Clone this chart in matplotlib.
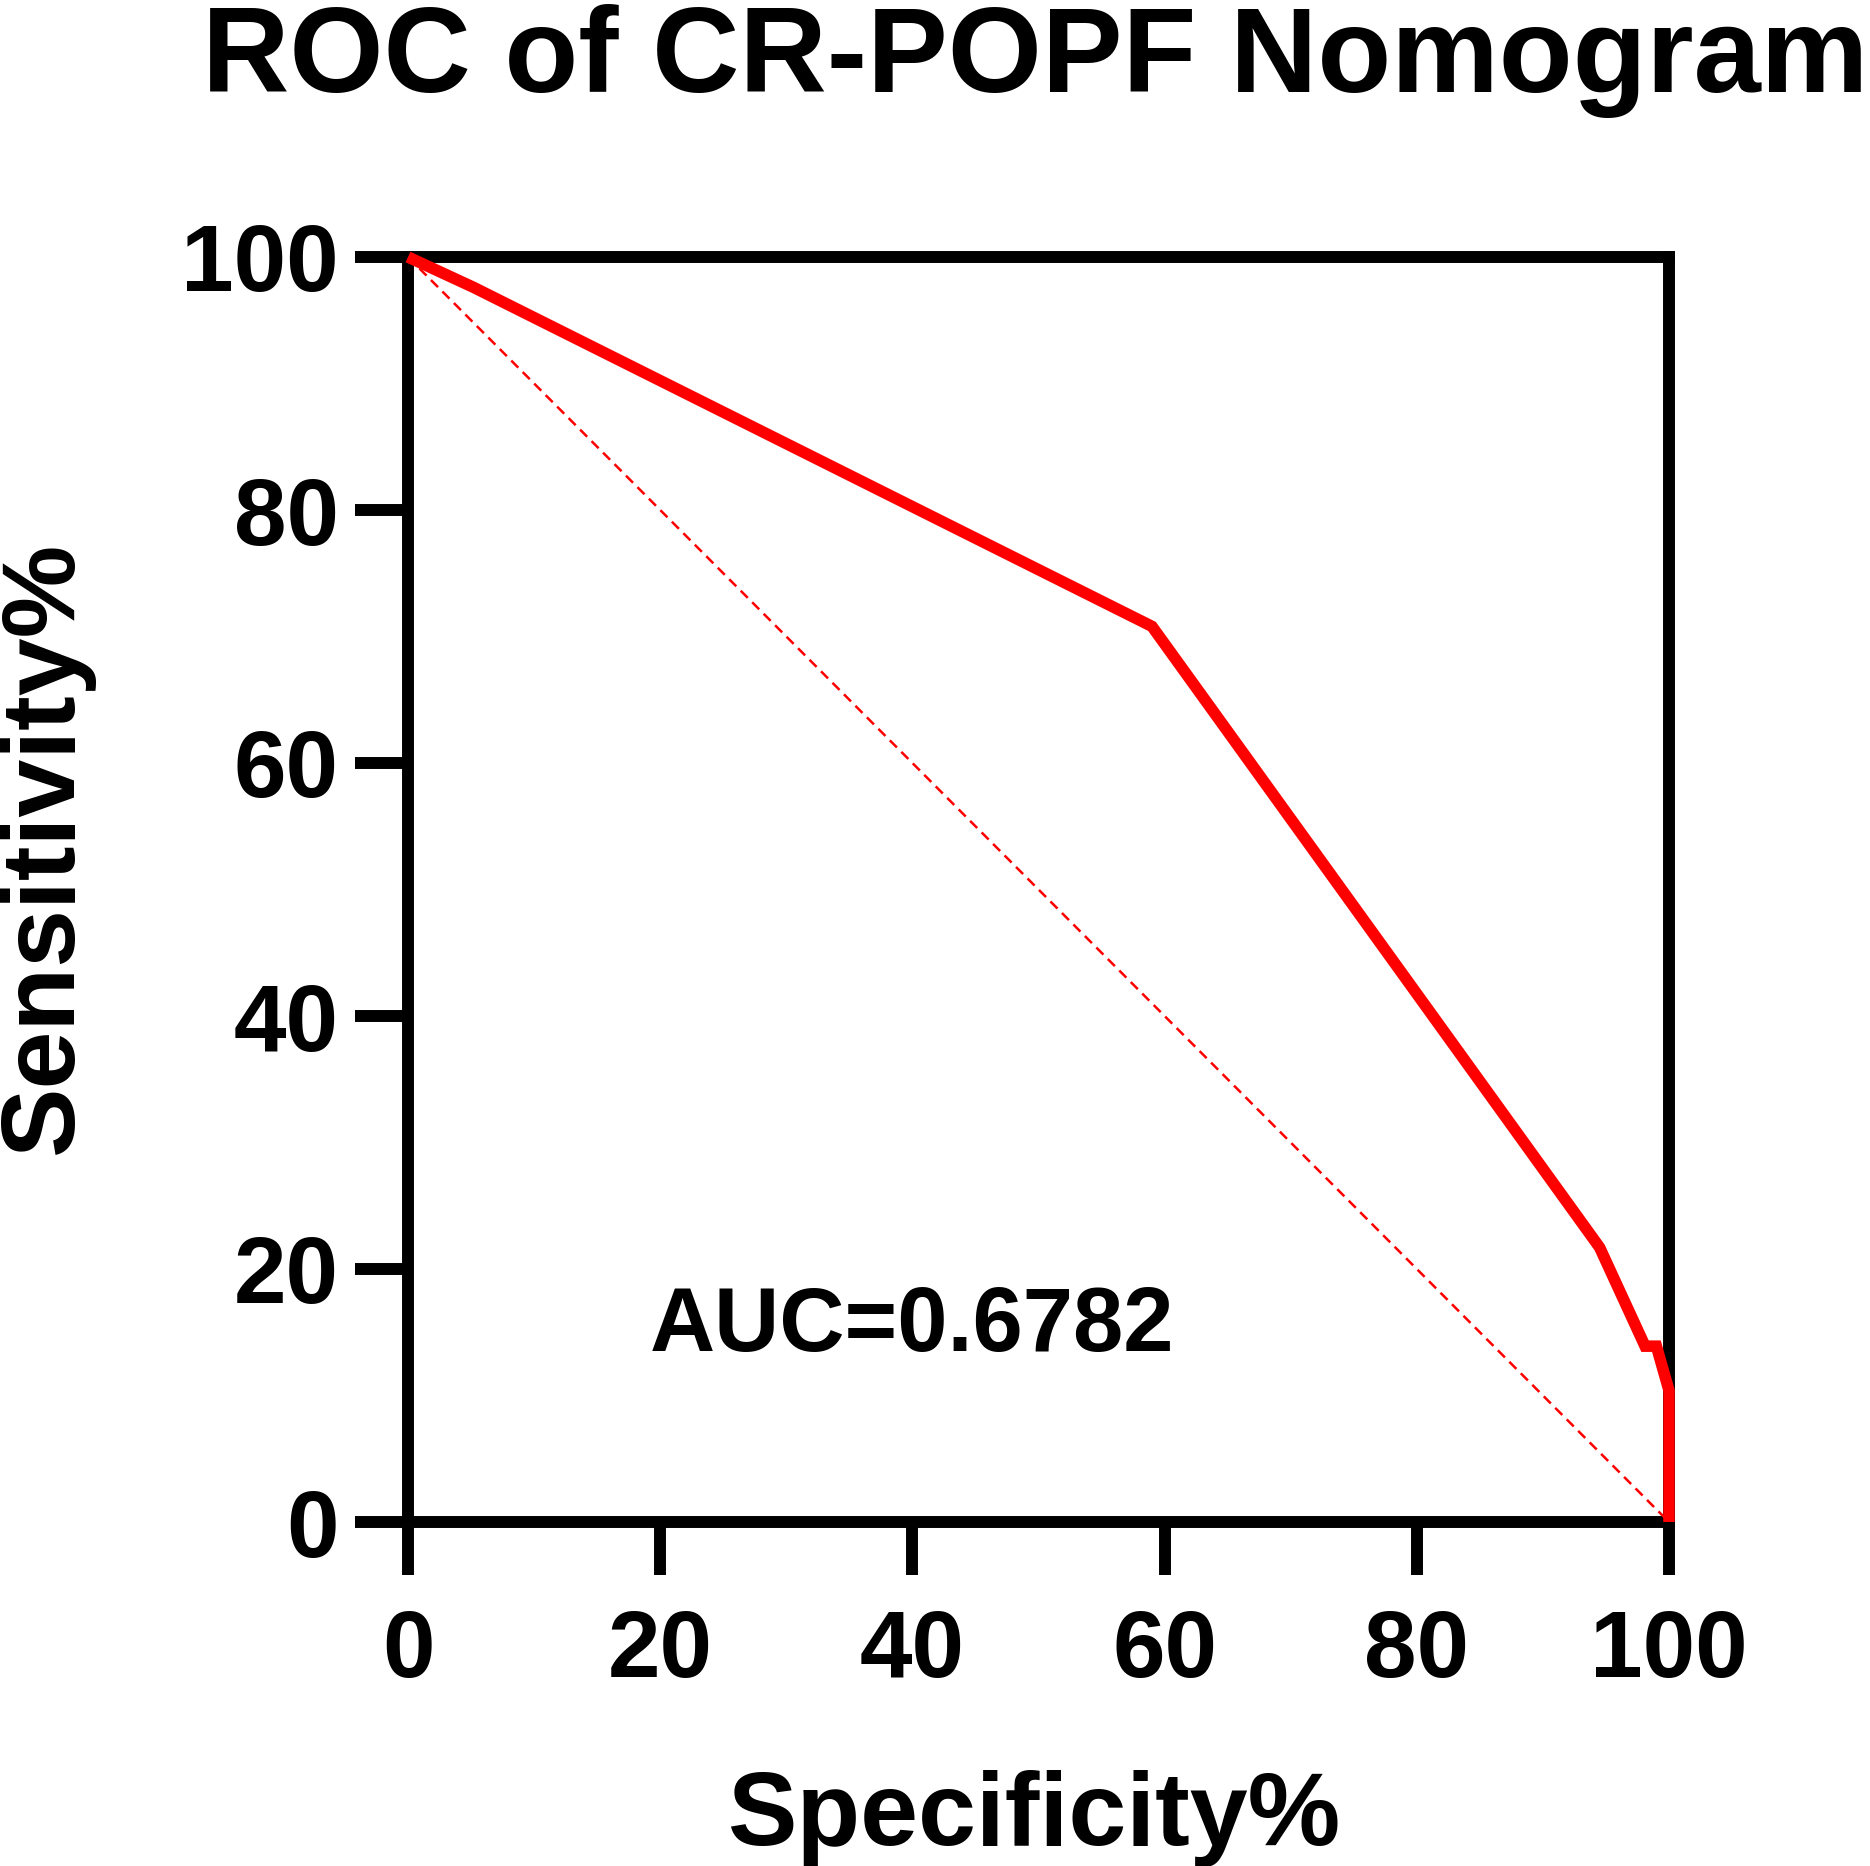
import matplotlib
matplotlib.use('Agg')
import matplotlib.pyplot as plt

# ROC curve points (Specificity%, Sensitivity%)
specificity = [0, 5.2, 59.0, 94.5, 98.1, 99.0, 100, 100]
sensitivity = [100, 97.6, 70.8, 21.7, 13.9, 13.9, 10.4, 0]
ref_x = [0, 100]
ref_y = [100, 0]
ticks = [0, 20, 40, 60, 80, 100]
auc_text = 'AUC=0.6782'

plt.rcParams['font.family'] = ['Liberation Sans', 'DejaVu Sans']
plt.rcParams['font.weight'] = 'bold'

W, H = 1870, 1866
fig = plt.figure(figsize=(W / 100, H / 100), dpi=100)
ax = fig.add_axes([408 / W, 1 - 1522 / H, 1261 / W, 1265 / H])

ax.plot(ref_x, ref_y, color='red', lw=1.8, dashes=[4, 2.5], zorder=3)
ax.plot(specificity, sensitivity, color='red', lw=8.3, zorder=5,
        clip_on=False, solid_joinstyle='miter', solid_capstyle='butt')

ax.set_xlim(0, 100)
ax.set_ylim(0, 100)
ax.set_xticks(ticks)
ax.set_yticks(ticks)

for s in ax.spines.values():
    s.set_linewidth(8.6)
    s.set_color('black')

ax.tick_params(axis='both', which='major', length=38, width=8.6,
               labelsize=68, color='black')
ax.tick_params(axis='x', pad=24)
ax.tick_params(axis='y', pad=12)
for lab in ax.get_xticklabels() + ax.get_yticklabels():
    lab.set_fontweight('bold')

ax.text(40, 13.5, auc_text, fontsize=65, fontweight='bold',
        ha='center', va='baseline')

fig.text(1035.5 / W, 1 - 92 / H, 'ROC of CR-POPF Nomogram', fontsize=87,
         fontweight='bold', ha='center', va='baseline')
fig.text(1035 / W, 1 - 1845 / H, 'Specificity%', fontsize=75,
         fontweight='bold', ha='center', va='baseline')
fig.text(-3 / W, 1 - 847 / H, 'Sensitivity%', fontsize=75,
         fontweight='bold', ha='left', va='center', rotation=90)

fig.savefig('out.png', dpi=100)
plt.close(fig)
